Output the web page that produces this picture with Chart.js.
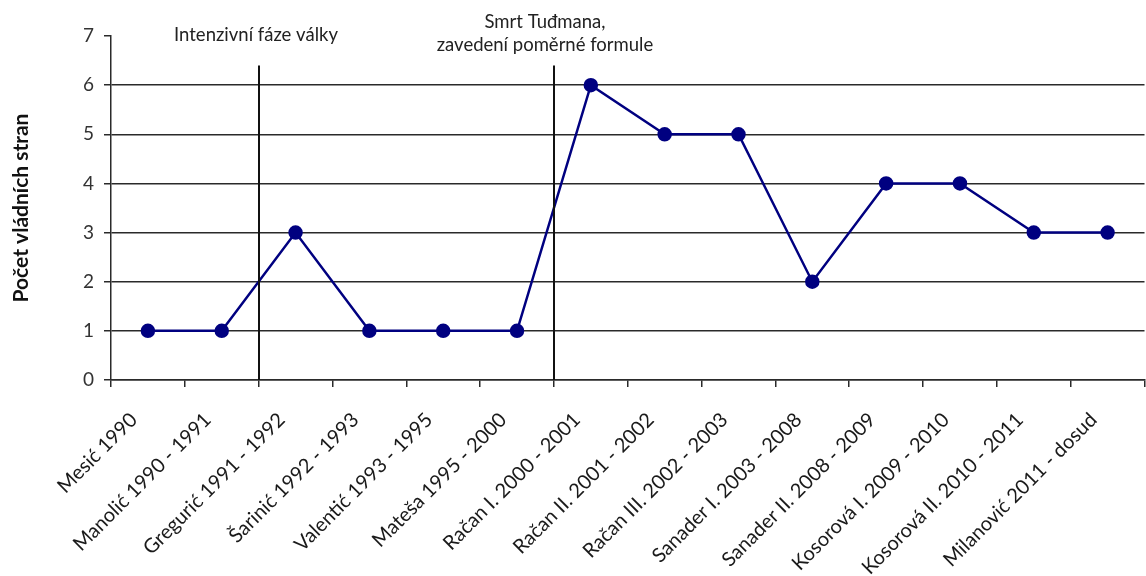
<!DOCTYPE html>
<html>
<head>
<meta charset="utf-8">
<script src="https://cdn.jsdelivr.net/npm/chart.js@4"></script>
<style>
  html, body { margin: 0; padding: 0; background: #fff; overflow: hidden; width: 1146px; height: 576px; }
  #wrap { position: absolute; left: 0; top: 0; width: 1153px; height: 576px; }
</style>
</head>
<body>
<div id="wrap"><canvas id="c" width="1153" height="576"></canvas></div>
<script>
const categories = [
  "Mesić 1990", "Manolić 1990 - 1991", "Gregurić 1991 - 1992", "Šarinić 1992 - 1993",
  "Valentić 1993 - 1995", "Mateša 1995 - 2000", "Račan I. 2000 - 2001", "Račan II. 2001 - 2002",
  "Račan III. 2002 - 2003", "Sanader I. 2003 - 2008", "Sanader II. 2008 - 2009",
  "Kosorová I. 2009 - 2010", "Kosorová II. 2010 - 2011", "Milanović 2011 - dosud"
];
const partyCounts = [1, 1, 3, 1, 1, 1, 6, 5, 5, 2, 4, 4, 3, 3];
const yTicks = [0, 1, 2, 3, 4, 5, 6, 7];
const yTitle = "Počet vládních stran";
const eventPositions = [1.5, 5.5];
const eventLabels = [["Intenzivní fáze války"], ["Smrt Tuđmana,", "zavedení poměrné formule"]];

const FONT = "Lato, 'Open Sans', sans-serif";

const eventPlugin = {
  id: 'events',
  afterDatasetsDraw(chart) {
    const ctx = chart.ctx;
    const x = chart.scales.x, y = chart.scales.y;
    const bottom = chart.chartArea.bottom;
    const top = y.getPixelForValue(6.4);
    ctx.save();
    eventPositions.forEach((p, i) => {
      const px = Math.round(x.getPixelForValue(p));
      ctx.strokeStyle = '#111';
      ctx.lineWidth = 2;
      ctx.beginPath();
      ctx.moveTo(px, top);
      ctx.lineTo(px, bottom);
      ctx.stroke();
      const lines = eventLabels[i];
      ctx.fillStyle = '#222';
      ctx.font = "18.5px " + FONT;
      ctx.textAlign = 'center';
      ctx.textBaseline = 'middle';
      const startY = lines.length === 1 ? 35 : 22;
      lines.forEach((t, j) => {
        ctx.fillText(t, px - (lines.length === 1 ? 3 : 9), startY + j * 23);
      });
    });
    ctx.restore();
  }
};

new Chart(document.getElementById('c'), {
  type: 'line',
  data: {
    labels: categories,
    datasets: [{
      data: partyCounts,
      borderColor: '#000080',
      backgroundColor: '#000080',
      borderWidth: 2.5,
      pointRadius: 6,
      pointHoverRadius: 6,
      pointBackgroundColor: '#000080',
      pointBorderColor: '#000080',
      tension: 0,
      clip: false
    }]
  },
  options: {
    responsive: false,
    animation: false,
    events: [],
    layout: { padding: { top: 36, left: 0, right: 0, bottom: 0 } },
    plugins: { legend: { display: false }, tooltip: { enabled: false } },
    scales: {
      x: {
        offset: true,
        grid: { offset: true, drawOnChartArea: false, drawTicks: true, tickLength: 7, color: '#2a2a2a', lineWidth: 1.5 },
        border: { display: true, color: '#2a2a2a', width: 1.5 },
        ticks: {
          autoSkip: false,
          maxRotation: 45, minRotation: 45,
          color: '#1a1a1a',
          font: { family: FONT, size: 20 },
          padding: 21,
          labelOffset: -14
        },
        afterFit(s) { s.height = 196; }
      },
      y: {
        min: 0, max: 7,
        afterBuildTicks(s) { s.ticks = yTicks.map(v => ({ value: v })); },
        grid: {
          color: (c) => c.tick && c.tick.value === 7 ? 'rgba(0,0,0,0)' : '#2a2a2a',
          lineWidth: 1.5,
          tickLength: 7,
          tickColor: '#2a2a2a'
        },
        border: { display: true, color: '#2a2a2a', width: 1.5 },
        ticks: {
          color: '#333',
          font: { family: FONT, size: 19 },
          padding: 10
        },
        title: {
          display: true,
          text: yTitle,
          color: '#111',
          font: { family: FONT, size: 21, weight: 'bold' },
          padding: { top: 9, bottom: 0 }
        },
        afterFit(s) { s.width = 111; }
      }
    }
  },
  plugins: [eventPlugin]
});
</script>
</body>
</html>
